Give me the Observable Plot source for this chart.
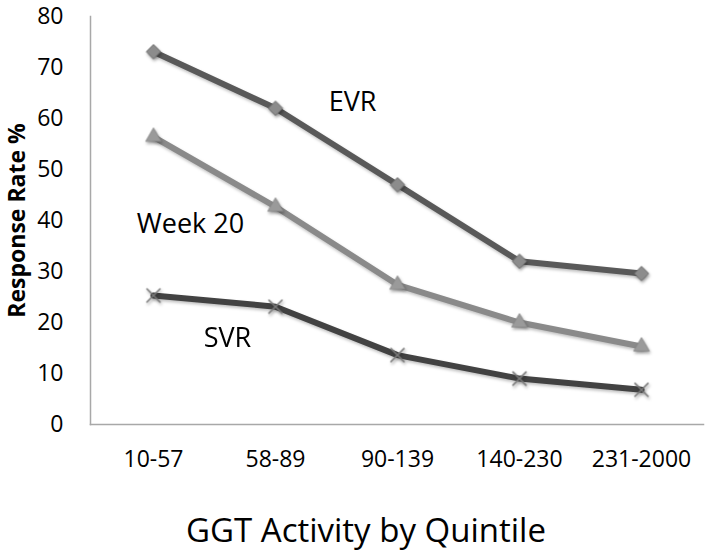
<!DOCTYPE html>
<html>
<head>
<meta charset="utf-8">
<script src="https://cdn.jsdelivr.net/npm/d3@7"></script>
<script src="https://cdn.jsdelivr.net/npm/@observablehq/plot@0.6"></script>
<style>
  html, body { margin: 0; padding: 0; background: #fff; }
  #chart svg { display: block; }
  g[aria-label="dot"] { filter: drop-shadow(1px 2px 1.5px rgba(0,0,0,0.35)); }
  g[aria-label="line"] { filter: drop-shadow(1px 2px 1.5px rgba(0,0,0,0.25)); }
</style>
</head>
<body>
<div id="chart"></div>
<script>
const categories = ["10-57", "58-89", "90-139", "140-230", "231-2000"];
const evr = [73.1, 62.0, 47.0, 32.0, 29.6];
const week20 = [56.4, 42.7, 27.4, 20.0, 15.3];
const svr = [25.3, 23.1, 13.6, 9.0, 6.8];
const yTicks = [0, 10, 20, 30, 40, 50, 60, 70, 80];
const seriesNames = ["EVR", "Week 20", "SVR"];
const xTitle = "GGT Activity by Quintile";
const yTitle = "Response Rate %";

const toRows = (vals) => categories.map((c, i) => ({cat: c, v: vals[i]}));
const rowsEVR = toRows(evr);
const rowsW20 = toRows(week20);
const rowsSVR = toRows(svr);

// Excel-like square diamond
const squareDiamond = {
  draw(context, size) {
    const r = Math.sqrt(size) / 1.6;
    context.moveTo(0, -r);
    context.lineTo(r, 0);
    context.lineTo(0, r);
    context.lineTo(-r, 0);
    context.closePath();
  }
};

const font = "'Open Sans', 'Noto Sans', sans-serif";
const labelStyle = {fontSize: 27, fill: "#000", lineAnchor: "middle", textAnchor: "middle"};

const plot = Plot.plot({
  width: 712,
  height: 557,
  marginLeft: 90,
  marginRight: 9,
  marginTop: 16,
  marginBottom: 133,
  style: {fontFamily: font, background: "#fff", color: "#000"},
  x: {type: "point", domain: categories, padding: 0.5, label: null},
  y: {domain: [0, 80], label: null},
  marks: [
    Plot.frame({anchor: "left", stroke: "#a8a8a8", strokeWidth: 1.5}),
    Plot.frame({anchor: "bottom", stroke: "#a8a8a8", strokeWidth: 1.5}),
    Plot.axisY({ticks: yTicks, tickSize: 0, tickPadding: 27, fontSize: 23, label: null}),
    Plot.axisX({tickSize: 0, tickPadding: 26, fontSize: 23, label: null}),
    Plot.lineY(rowsEVR, {x: "cat", y: "v", stroke: "#595959", strokeWidth: 6}),
    Plot.lineY(rowsW20, {x: "cat", y: "v", stroke: "#8a8a8a", strokeWidth: 6}),
    Plot.lineY(rowsSVR, {x: "cat", y: "v", stroke: "#424242", strokeWidth: 6}),
    Plot.dot(rowsEVR, {x: "cat", y: "v", symbol: squareDiamond, r: 6.5, fill: "#8c8c8c", stroke: "#707070", strokeWidth: 1}),
    Plot.dot(rowsW20, {x: "cat", y: "v", symbol: "triangle", r: 5.8, fill: "#9a9a9a", stroke: "#888", strokeWidth: 0.8}),
    Plot.dot(rowsSVR, {x: "cat", y: "v", symbol: "times", r: 6.4, stroke: "#7a7a7a", strokeWidth: 1.6}),
    Plot.text([seriesNames[0]], {x: () => categories[2], y: () => 63.2, text: d => d, dx: -45, ...labelStyle}),
    Plot.text([seriesNames[1]], {x: () => categories[0], y: () => 39.3, text: d => d, dx: 37, ...labelStyle}),
    Plot.text([seriesNames[2]], {x: () => categories[0], y: () => 16.9, text: d => d, dx: 74, ...labelStyle}),
    Plot.text([xTitle], {frameAnchor: "bottom", text: d => d, dy: 107, dx: -31, fontSize: 33, fill: "#000", lineAnchor: "middle", textAnchor: "middle"}),
    Plot.text([yTitle], {frameAnchor: "left", text: d => d, dx: -73, rotate: -90, fontSize: 23, fontWeight: "bold", fill: "#000", lineAnchor: "middle", textAnchor: "middle"})
  ]
});
document.getElementById("chart").appendChild(plot);
</script>
</body>
</html>
